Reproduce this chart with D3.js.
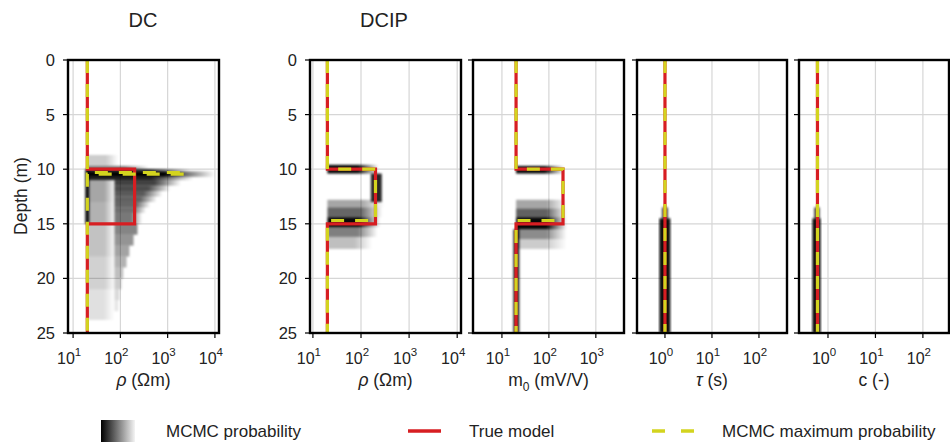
<!DOCTYPE html>
<html>
<head>
<meta charset="utf-8">
<script src="https://cdn.jsdelivr.net/npm/d3@7"></script>
<style>
  body { margin: 0; background: #fff; }
  text { font-family: "Liberation Sans", Arial, sans-serif; fill: #222; }
</style>
</head>
<body>
<svg id="chart" width="950" height="445"></svg>
<script>
// Depth axis
const depthTicks = [0, 5, 10, 15, 20, 25];
const maxDepth = 25;

// True model: layer tops and values
const trueTops = [0, 10, 15];
const trueRho = [20, 200, 20];
const trueM0 = [20, 200, 20];
const trueTau = [1, 1, 1];
const trueC = [0.6, 0.6, 0.6];

// MCMC maximum probability models
const maxTopsDC = [0, 10.3, 10.45];
const maxRhoDC = [20, 2500, 20];
const maxTopsIP = [0, 10, 14.7];
const maxRhoIP = [20, 200, 20];
const maxM0 = [20, 200, 20];
const maxTau = [1, 1, 1];
const maxC = [0.6, 0.6, 0.6];

// MCMC probability bands: [depth top, depth bottom, low value, high value, density]
const probDC = [
  [8.7, 9.7, 20, 90, 0.2],
  [11, 13, 20, 80, 0.35],
  [13, 15, 20, 80, 0.3],
  [15, 18, 20, 80, 0.24],
  [18, 21, 20, 80, 0.18],
  [21, 23.8, 20, 75, 0.12],
  [9.7, 10.0, 20, 400, 0.5],
  [10.0, 10.2, 20, 3000, 0.92],
  [10.2, 10.7, 20, 10000, 1.0],
  [10.7, 11.0, 20, 3500, 0.88],
  [11.0, 11.5, 75, 1900, 0.75],
  [11.5, 12.0, 75, 1150, 0.7],
  [12.0, 12.5, 75, 780, 0.65],
  [12.5, 13.0, 75, 590, 0.62],
  [13.0, 13.5, 75, 430, 0.6],
  [13.5, 14.0, 75, 350, 0.57],
  [14.0, 15.0, 75, 290, 0.53],
  [15.0, 16.0, 75, 230, 0.48],
  [16.0, 17.0, 75, 190, 0.42],
  [17.0, 18.0, 75, 155, 0.36],
  [18.0, 19.0, 75, 135, 0.3],
  [19.0, 20.0, 75, 115, 0.25],
  [20.0, 21.0, 75, 105, 0.2],
  [21.0, 22.0, 75, 95, 0.15],
  [22.0, 23.0, 75, 90, 0.1],
  [10.0, 15.0, 18, 22, 0.9]
];
const probRho = [
  [9.6, 10.4, 20, 230, 0.95],
  [10.4, 13.0, 160, 270, 0.85],
  [12.8, 13.5, 20, 300, 0.35],
  [13.5, 14.4, 20, 280, 0.6],
  [14.4, 15.3, 20, 250, 0.97],
  [15.3, 16.2, 20, 220, 0.5],
  [16.2, 17.3, 20, 170, 0.25]
];
const probM0 = [
  [9.7, 10.4, 20, 210, 0.95],
  [12.8, 13.6, 20, 240, 0.35],
  [13.6, 14.4, 20, 240, 0.62],
  [14.4, 15.5, 20, 240, 0.97],
  [15.5, 16.4, 20, 240, 0.45],
  [16.4, 17.3, 20, 240, 0.2],
  [15.5, 25, 17.5, 23.5, 0.85]
];
const probTau = [
  [13.5, 14.5, 0.86, 1.16, 0.7],
  [14.5, 25, 0.76, 1.3, 0.95]
];
const probC = [
  [13.5, 14.5, 0.51, 0.67, 0.7],
  [14.5, 25, 0.47, 0.7, 0.95]
];

// Panel layout
const plotTop = 60, plotBottom = 333;
const panels = [
  {x0: 68, x1: 219, dom: [7.8, 12200], ticks: [10, 100, 1000, 10000], yLabels: true,
   prob: probDC, trueTops: trueTops, trueVals: trueRho, maxTops: maxTopsDC, maxVals: maxRhoDC, label: "rho"},
  {x0: 310, x1: 461, dom: [8.7, 12000], ticks: [10, 100, 1000, 10000], yLabels: true,
   prob: probRho, trueTops: trueTops, trueVals: trueRho, maxTops: maxTopsIP, maxVals: maxRhoIP, label: "rho"},
  {x0: 473, x1: 624, dom: [2.42, 3980], ticks: [10, 100, 1000], yLabels: false,
   prob: probM0, trueTops: trueTops, trueVals: trueM0, maxTops: maxTopsIP, maxVals: maxM0, label: "m0"},
  {x0: 637, x1: 787, dom: [0.254, 395], ticks: [1, 10, 100], yLabels: false,
   prob: probTau, trueTops: trueTops, trueVals: trueTau, maxTops: maxTopsIP, maxVals: maxTau, label: "tau"},
  {x0: 799, x1: 949, dom: [0.245, 355], ticks: [1, 10, 100], yLabels: false,
   prob: probC, trueTops: trueTops, trueVals: trueC, maxTops: maxTopsIP, maxVals: maxC, label: "c"}
];

const red = "#d71e22", yellow = "#d3d41f";
const svg = d3.select("#chart");
const defs = svg.append("defs");

const fade = defs.append("linearGradient").attr("id", "fade")
  .attr("x1", 0).attr("x2", 1).attr("y1", 0).attr("y2", 0);
fade.append("stop").attr("offset", 0).attr("stop-color", "#000").attr("stop-opacity", 1);
fade.append("stop").attr("offset", 0.6).attr("stop-color", "#000").attr("stop-opacity", 1);
fade.append("stop").attr("offset", 1).attr("stop-color", "#000").attr("stop-opacity", 0);

const legendGrad = defs.append("linearGradient").attr("id", "legendGrad")
  .attr("x1", 0).attr("x2", 1).attr("y1", 0).attr("y2", 0);
legendGrad.append("stop").attr("offset", 0).attr("stop-color", "#000");
legendGrad.append("stop").attr("offset", 1).attr("stop-color", "#f4f4f4");

defs.append("filter").attr("id", "soft")
  .attr("x", "-10%").attr("y", "-10%").attr("width", "120%").attr("height", "120%")
  .append("feGaussianBlur").attr("stdDeviation", "1 1.2");

const y = d3.scaleLinear().domain([0, maxDepth]).range([plotTop, plotBottom]);

function steps(tops, vals) {
  const pts = [];
  vals.forEach(function(v, i) {
    const d0 = tops[i], d1 = i + 1 < tops.length ? tops[i + 1] : maxDepth;
    pts.push([v, d0]);
    pts.push([v, d1]);
  });
  return pts;
}

panels.forEach(function(p, pi) {
  const x = d3.scaleLog().domain(p.dom).range([p.x0, p.x1]);
  const g = svg.append("g");

  defs.append("clipPath").attr("id", "clip" + pi)
    .append("rect").attr("x", p.x0).attr("y", plotTop)
    .attr("width", p.x1 - p.x0).attr("height", plotBottom - plotTop);

  // Grid
  g.selectAll(".gx").data(p.ticks).enter().append("line")
    .attr("x1", d => x(d)).attr("x2", d => x(d))
    .attr("y1", plotTop).attr("y2", plotBottom)
    .attr("stroke", "#d6d6d6").attr("stroke-width", 1.2);
  g.selectAll(".gy").data(depthTicks.slice(1, -1)).enter().append("line")
    .attr("x1", p.x0).attr("x2", p.x1)
    .attr("y1", d => y(d)).attr("y2", d => y(d))
    .attr("stroke", "#d6d6d6").attr("stroke-width", 1.2);

  // Probability bands
  const clipG = g.append("g").attr("clip-path", "url(#clip" + pi + ")");
  clipG.append("g").attr("filter", "url(#soft)")
    .selectAll("rect").data(p.prob).enter().append("rect")
    .attr("x", d => x(d[2]))
    .attr("width", d => x(d[3]) - x(d[2]))
    .attr("y", d => y(d[0]))
    .attr("height", d => y(d[1]) - y(d[0]))
    .attr("fill", d => Math.log10(d[3] / d[2]) < 0.5 ? "#000" : "url(#fade)")
    .attr("fill-opacity", d => d[4]);

  const line = d3.line().x(d => x(d[0])).y(d => y(d[1]));

  // True model
  clipG.append("path").attr("d", line(steps(p.trueTops, p.trueVals)))
    .attr("fill", "none").attr("stroke", red).attr("stroke-width", 3.2);

  // MCMC maximum probability
  clipG.append("path").attr("d", line(steps(p.maxTops, p.maxVals)))
    .attr("fill", "none").attr("stroke", yellow).attr("stroke-width", 3.2)
    .attr("stroke-dasharray", "13,11");

  // Frame
  g.append("rect").attr("x", p.x0).attr("y", plotTop)
    .attr("width", p.x1 - p.x0).attr("height", plotBottom - plotTop)
    .attr("fill", "none").attr("stroke", "#000").attr("stroke-width", 2.4);

  // Y ticks
  g.selectAll(".ty").data(depthTicks).enter().append("line")
    .attr("x1", p.x0 - 5).attr("x2", p.x0)
    .attr("y1", d => y(d)).attr("y2", d => y(d))
    .attr("stroke", "#000").attr("stroke-width", 1.2);
  if (p.yLabels) {
    g.selectAll(".ly").data(depthTicks).enter().append("text")
      .attr("x", p.x0 - 13).attr("y", d => y(d) + 6)
      .attr("text-anchor", "end").attr("font-size", 16.5)
      .text(d => d);
  }

  // X ticks
  g.selectAll(".tx").data(p.ticks).enter().append("line")
    .attr("x1", d => x(d)).attr("x2", d => x(d))
    .attr("y1", plotBottom).attr("y2", plotBottom + 5)
    .attr("stroke", "#000").attr("stroke-width", 1.2);
  const lx = g.selectAll(".lx").data(p.ticks).enter().append("text")
    .attr("x", d => x(d) - 4).attr("y", 364)
    .attr("text-anchor", "middle").attr("font-size", 16);
  lx.append("tspan").text("10");
  lx.append("tspan").attr("dy", -8).attr("font-size", 11.5)
    .text(d => Math.round(Math.log10(d)));

  // Axis title
  const cx = (p.x0 + p.x1) / 2;
  const t = g.append("text").attr("x", cx).attr("y", 386)
    .attr("text-anchor", "middle").attr("font-size", 17.5);
  if (p.label === "rho") {
    t.append("tspan").attr("font-style", "italic").text("\u03c1");
    t.append("tspan").text(" (\u03a9m)");
  } else if (p.label === "m0") {
    t.append("tspan").text("m");
    t.append("tspan").attr("dy", 5).attr("font-size", 12).text("0");
    t.append("tspan").attr("dy", -5).text(" (mV/V)");
  } else if (p.label === "tau") {
    t.append("tspan").attr("font-style", "italic").text("\u03c4");
    t.append("tspan").text(" (s)");
  } else {
    t.text("c (-)");
  }
});

// Titles
svg.append("text").attr("x", 143).attr("y", 27).attr("text-anchor", "middle")
  .attr("font-size", 20).text("DC");
svg.append("text").attr("x", 384).attr("y", 27).attr("text-anchor", "middle")
  .attr("font-size", 20).text("DCIP");

// Depth label
svg.append("text").attr("transform", "translate(27,196) rotate(-90)")
  .attr("text-anchor", "middle").attr("font-size", 17.5).text("Depth (m)");

// Legend
const ly = 431;
svg.append("rect").attr("x", 101).attr("y", ly - 11).attr("width", 34).attr("height", 22)
  .attr("fill", "url(#legendGrad)");
svg.append("text").attr("x", 166).attr("y", ly + 6).attr("font-size", 17).text("MCMC probability");
svg.append("line").attr("x1", 408).attr("x2", 441).attr("y1", ly).attr("y2", ly)
  .attr("stroke", red).attr("stroke-width", 3.5);
svg.append("text").attr("x", 469).attr("y", ly + 6).attr("font-size", 17).text("True model");
svg.append("line").attr("x1", 652).attr("x2", 694).attr("y1", ly).attr("y2", ly)
  .attr("stroke", yellow).attr("stroke-width", 3.5).attr("stroke-dasharray", "13,16");
svg.append("text").attr("x", 722).attr("y", ly + 6).attr("font-size", 17).text("MCMC maximum probability");
</script>
</body>
</html>
